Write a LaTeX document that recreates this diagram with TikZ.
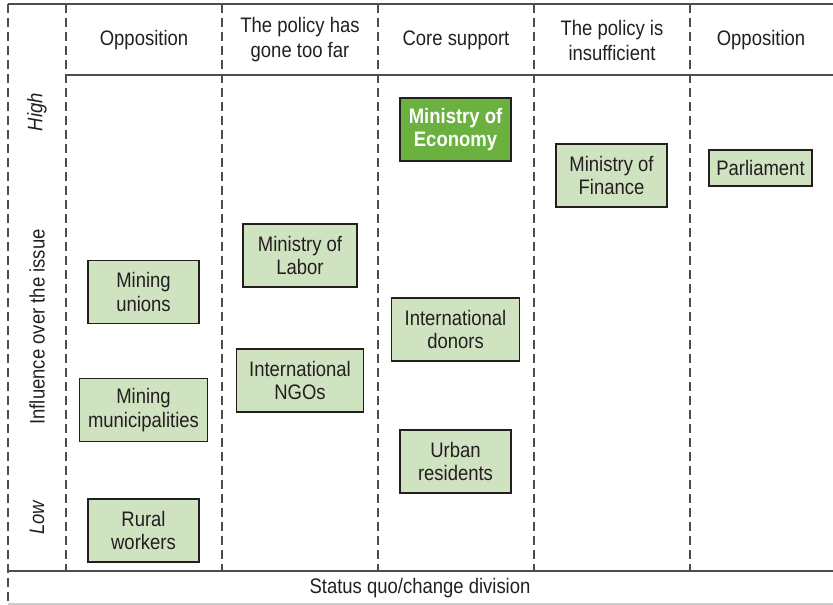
\documentclass[tikz,border=0pt]{standalone}
\usepackage{fontspec}
\setmainfont[FakeStretch=0.88]{Liberation Sans}
\definecolor{inkgray}{HTML}{231F20}
\definecolor{rulegray}{HTML}{4D4D4D}
\definecolor{stakefill}{HTML}{D0E3C1}
\definecolor{keyfill}{HTML}{6BB140}
\tikzset{
  stake/.style={draw=inkgray, line width=1.2pt, fill=stakefill, text=inkgray,
    align=center, minimum width=111pt, minimum height=63pt, inner xsep=6pt,
    font=\fontsize{21}{23.5}\selectfont},
  keystake/.style={stake, fill=keyfill, text=white,
    font=\fontsize{21}{23.5}\selectfont\bfseries},
  widestake/.style={stake, minimum width=128pt},
  head/.style={text=inkgray, align=center, font=\fontsize{21}{25}\selectfont},
  divider/.style={rulegray, line width=1.3pt, dash pattern=on 9pt off 5pt},
  border/.style={rulegray, line width=1.3pt},
}
\begin{document}
\begin{tikzpicture}[x=1pt, y=-1pt]
    \useasboundingbox (0,0) rectangle (833,605);

    % frame
    \draw[border] (8,4) -- (833,4);
    \draw[border] (66,75) -- (833,75);
    \draw[border] (8,571) -- (833,571);
    \draw[gray!40, line width=1.3pt] (8,604) -- (833,604);
    \draw[divider] (8,4) -- (8,605);
    \foreach \x in {66, 222, 378, 534, 690}
        \draw[divider] (\x,4) -- (\x,571);

    % column heads
    \node[head] (h1) at (144, 40) {Opposition};
    \node[head] (h2) at (300, 40) {The policy has\\gone too far};
    \node[head] (h3) at (456, 40) {Core support};
    \node[head] (h4) at (612, 40) {The policy is\\insufficient};
    \node[head] (h5) at (761, 40) {Opposition};

    % influence axis
    \node[head, rotate=90, font=\fontsize{21}{25}\selectfont\itshape] (high) at (37, 112) {High};
    \node[head, rotate=90] (influence) at (37, 327) {Influence over the issue};
    \node[head, rotate=90, font=\fontsize{21}{25}\selectfont\itshape] (low) at (37, 518) {Low};
    \node[head] (division) at (420, 588) {Status quo/change division};

    % stakeholders
    \node[stake] (unions) at (143.5, 292) {Mining\\unions};
    \node[widestake] (municipalities) at (143.5, 410) {Mining\\municipalities};
    \node[stake] (rural) at (143.5, 530.5) {Rural\\workers};
    \node[stake, minimum width=114pt] (labor) at (300, 255.5) {Ministry of\\Labor};
    \node[widestake, minimum width=127pt] (ngos) at (300, 380.5) {International\\NGOs};
    \node[keystake] (economy) at (455.5, 129.5) {Ministry of\\Economy};
    \node[widestake] (donors) at (455.5, 329.5) {International\\donors};
    \node[stake] (urban) at (455.5, 461.5) {Urban\\residents};
    \node[stake] (finance) at (611.5, 175.5) {Ministry of\\Finance};
    \node[stake, minimum width=103pt, minimum height=36pt] (parliament) at (760.5, 168) {Parliament};
\end{tikzpicture}
\end{document}
